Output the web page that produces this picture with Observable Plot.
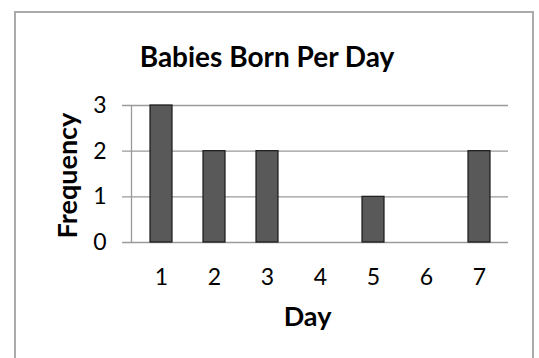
<!DOCTYPE html>
<html>
<head>
<meta charset="utf-8">
<script src="https://cdn.jsdelivr.net/npm/d3@7"></script>
<script src="https://cdn.jsdelivr.net/npm/@observablehq/plot@0.6"></script>
<style>
  html, body { margin: 0; padding: 0; background: #fff; }
  #wrap { position: relative; width: 539px; height: 358px; overflow: hidden; }
  #border { position: absolute; left: 14px; top: 11px; width: 520px; height: 360px; border: 2px solid #ababab; box-sizing: border-box; }
  #chart { position: absolute; left: 0; top: 0; }
</style>
</head>
<body>
<div id="wrap"><div id="border"></div><div id="chart"></div></div>
<script>
const days = ["1", "2", "3", "4", "5", "6", "7"];
const frequency = [3, 2, 2, 0, 1, 0, 2];
const yTicks = [0, 1, 2, 3];
const title = "Babies Born Per Day";
const xTitle = "Day";
const yTitle = "Frequency";

const data = days.map((d, i) => ({day: d, value: frequency[i]}));
const font = "Lato, 'Open Sans', sans-serif";

const plot = Plot.plot({
  width: 539,
  height: 358,
  marginLeft: 131,
  marginRight: 31,
  marginTop: 105,
  marginBottom: 116,
  style: {fontFamily: font, color: "#000", background: "transparent"},
  x: {domain: days, paddingInner: 0.59, paddingOuter: 0.295, label: null, axis: null},
  y: {domain: [0, 3], label: null, axis: null},
  marks: [
    Plot.ruleY(yTicks, {stroke: "#9a9a9a", strokeWidth: 1.3, insetLeft: -9}),
    Plot.frame({anchor: "left", stroke: "#9a9a9a", strokeWidth: 1.3}),
    Plot.text(yTicks, {y: d => d, frameAnchor: "left", textAnchor: "end", lineAnchor: "middle", dx: -25, text: d => String(d), fontSize: 23, fill: "#000"}),
    Plot.text(days, {x: d => d, frameAnchor: "bottom", textAnchor: "middle", lineAnchor: "middle", dy: 35, text: d => d, fontSize: 23, fill: "#000"}),
    Plot.barY(data, {x: "day", y: "value", fill: "#595959", stroke: "#1a1a1a", strokeWidth: 1.2}),
    Plot.text([title], {frameAnchor: "top", lineAnchor: "bottom", dy: -39, dx: -53, text: d => d, fontSize: 28, fontWeight: "bold", fill: "#000"}),
    Plot.text([xTitle], {frameAnchor: "bottom", lineAnchor: "bottom", dy: 83, dx: -12.5, text: d => d, fontSize: 27, fontWeight: "bold", fill: "#000"}),
    Plot.text([yTitle], {frameAnchor: "left", textAnchor: "middle", dx: -63, dy: 1.5, rotate: -90, text: d => d, fontSize: 27, fontWeight: "bold", fill: "#000"})
  ]
});
document.getElementById("chart").appendChild(plot);
</script>
</body>
</html>
